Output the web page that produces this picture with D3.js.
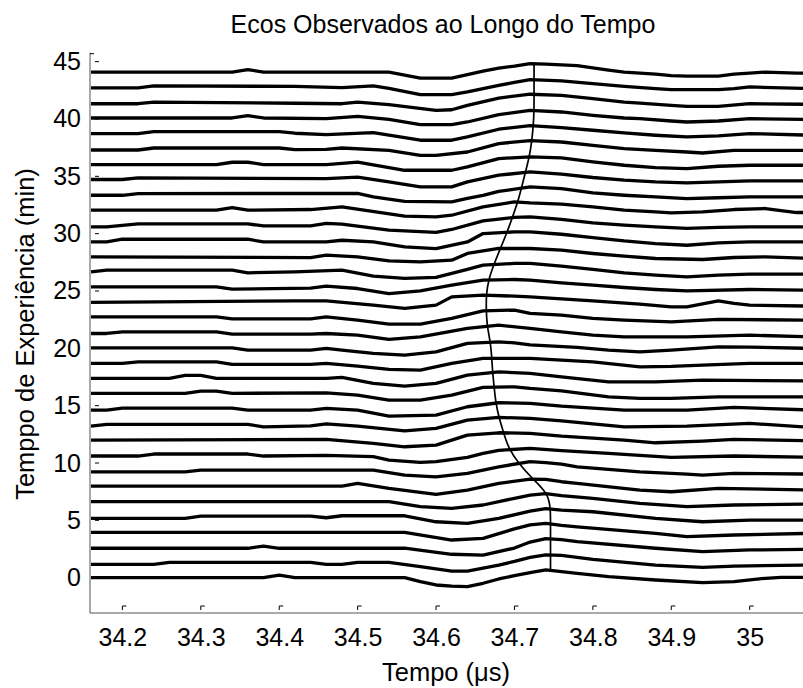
<!DOCTYPE html>
<html lang="pt">
<head>
  <meta charset="UTF-8">
  <script src="https://d3js.org/d3.v7.min.js"></script>
  <title>Ecos Observados ao Longo do Tempo</title>
  <style>
    body { margin: 0; background: #fff; }
    svg { display: block; font-family: Arial, "Liberation Sans", sans-serif; }
    .traco { fill: none; stroke: #000; stroke-width: 3.3; stroke-linejoin: round; }
    .pico { fill: none; stroke: #000; stroke-width: 1.7; }
    .linha-eixo { stroke: #555; stroke-width: 1; fill: none; }
    .marca { stroke: #000; stroke-width: 1; fill: none; }
    .eixo text { font-size: 25px; fill: #000; }
    .titulo { font-size: 25px; fill: #000; }
    .rotulo { font-size: 25.5px; fill: #000; }
  </style>
</head>
<body>
  <svg id="grafico" width="803" height="688"></svg>

  <script>
    // tempo de experiência (min) de cada eco, de baixo para cima
    const tempoExperiencia = [0, 1.33, 2.67, 4, 5.33, 6.67, 8, 9.33, 10.67, 12, 13.33, 14.67,
      16, 17.33, 18.67, 20, 21.33, 22.67, 24, 25.33, 26.67, 28, 29.33, 30.67,
      32, 33.33, 34.67, 36, 37.33, 38.67, 40, 41.33, 42.67, 44];

    // amplitude de cada eco (u.a.) nos vértices [tempo (µs), amplitude]
    const ecos = [
      [[34.16,0],[34.38,0],[34.40,2.5],[34.42,0],[34.56,0],[34.58,-4],[34.60,-7.3],[34.62,-8.5],[34.64,-9],[34.66,-5.6],[34.68,-1.3],[34.70,2],[34.72,5],[34.74,7.7],[34.76,6],[34.78,4.4],[34.82,1],[34.88,-2.3],[34.94,-5],[34.98,-4],[35.02,-0.6],[35.04,0.4],[35.08,0.4]],
      [[34.16,-1.9],[34.24,-1.9],[34.26,0],[34.44,0],[34.46,-1.9],[34.48,-1.9],[34.50,0],[34.54,0],[34.58,-4.3],[34.62,-8.6],[34.64,-8.6],[34.68,-2.6],[34.70,1],[34.72,5],[34.74,7.5],[34.76,7],[34.80,3.1],[34.88,-2.6],[34.94,-4.9],[34.98,-3.6],[35.08,-2.6]],
      [[34.16,-1.2],[34.36,-1.2],[34.38,1],[34.40,-1.2],[34.56,-1],[34.62,-7.2],[34.66,-8],[34.70,-1],[34.72,5],[34.74,8.5],[34.76,7.5],[34.78,5.4],[34.88,-1.2],[34.94,-4.6],[35.00,-2.9],[35.08,-2.2]],
      [[34.16,-0.5],[34.56,-0.5],[34.62,-8.2],[34.66,-6.5],[34.70,3],[34.72,7],[34.74,8.5],[34.76,6.5],[34.78,5],[34.88,-1.5],[34.92,-4.9],[34.98,-3.2],[35.08,-1.5]],
      [[34.16,-1.8],[34.28,-1.8],[34.30,0.5],[34.44,0.5],[34.46,-1.2],[34.48,0.8],[34.56,0.8],[34.60,-5.2],[34.64,-6.8],[34.68,-1.8],[34.72,5.5],[34.74,8],[34.76,6.5],[34.80,4.8],[34.88,-1.8],[34.94,-5.2],[35.00,-3.5],[35.08,-3.5]],
      [[34.16,-0.5],[34.54,-0.5],[34.58,-5.5],[34.62,-7.1],[34.66,-3.8],[34.70,2.9],[34.72,6],[34.74,7.5],[34.76,5.5],[34.80,2.9],[34.86,-2.1],[34.92,-5.5],[34.98,-3.8],[35.08,-2.8]],
      [[34.16,-0.1],[34.48,-0.1],[34.50,2.6],[34.54,-2.4],[34.60,-8.4],[34.64,-4.1],[34.68,2.6],[34.72,6.9],[34.74,6.5],[34.76,4.2],[34.78,2.6],[34.86,-4.1],[34.90,-5.8],[34.96,-2.4],[35.08,-4.1]],
      [[34.16,-1.1],[34.28,-1.1],[34.30,0.6],[34.52,0.6],[34.56,-4.4],[34.60,-6.1],[34.64,-2.7],[34.68,3.9],[34.72,9],[34.74,8],[34.76,6.6],[34.78,3.9],[34.86,-1.1],[34.92,-3.4],[34.94,-4.4],[34.98,-2.7],[35.08,-3.4]],
      [[34.16,-0.7],[34.22,-0.7],[34.24,1.3],[34.36,1.3],[34.38,-0.7],[34.46,0],[34.52,-1.4],[34.54,-4.7],[34.58,-7],[34.60,-6.4],[34.64,-2],[34.66,2],[34.68,5],[34.72,7],[34.76,4.6],[34.82,2],[34.90,-2],[34.98,-0.7],[35.08,-2]],
      [[34.16,0],[34.46,0.7],[34.52,-3.3],[34.56,-6.7],[34.60,-5],[34.64,5],[34.68,7.3],[34.72,6.7],[34.76,4],[34.84,0],[34.88,-2.7],[34.94,-1],[34.98,0.7],[35.08,-0.7]],
      [[34.16,-1.3],[34.18,0.4],[34.36,0.4],[34.38,-2],[34.44,-1],[34.46,1],[34.50,-1.3],[34.56,-6],[34.60,-3.6],[34.64,4.7],[34.68,7.4],[34.72,6.4],[34.76,4],[34.84,-2],[34.92,-1.3],[35.00,1.4],[35.08,-2.6]],
      [[34.16,-0.6],[34.18,-0.6],[34.20,1.4],[34.34,1.4],[34.36,-0.6],[34.44,-0.6],[34.46,1.1],[34.50,-0.6],[34.54,-6.6],[34.60,-5.6],[34.64,2.7],[34.68,6.7],[34.72,6.1],[34.76,3.4],[34.84,-0.6],[34.92,-0.6],[34.98,2.1],[35.08,-0.6]],
      [[34.16,0.8],[34.28,0.8],[34.30,3.1],[34.32,3.1],[34.34,0.8],[34.46,1.4],[34.50,-0.9],[34.54,-5.9],[34.58,-5.9],[34.62,-0.9],[34.66,6.8],[34.70,7.4],[34.72,5.8],[34.76,3.4],[34.82,-2.6],[34.86,-4.2],[34.90,-4.2],[34.96,-2.6],[35.08,-2.6]],
      [[34.16,0.5],[34.26,0.5],[34.28,3.5],[34.30,3.5],[34.32,0.5],[34.46,0.5],[34.48,1.5],[34.52,-4.5],[34.56,-7.2],[34.60,-4.5],[34.64,3.8],[34.68,7.1],[34.72,5.5],[34.76,2.1],[34.82,-2.9],[34.88,-2.9],[34.94,-1.2],[35.08,-1.9]],
      [[34.16,0.2],[34.20,0.2],[34.22,1.8],[34.32,1.8],[34.34,-0.8],[34.44,-0.8],[34.46,0.2],[34.50,-2.5],[34.54,-5.8],[34.58,-6.5],[34.62,0.2],[34.66,5.2],[34.72,5.2],[34.76,3.5],[34.80,1.8],[34.86,-3.2],[34.90,-2.8],[34.94,-1.5],[35.00,0.2],[35.08,0.2]],
      [[34.16,0.5],[34.34,0.5],[34.36,-1.8],[34.44,-1.8],[34.46,-0.1],[34.48,-1.8],[34.52,-5.1],[34.56,-6.8],[34.60,-3.5],[34.64,4.9],[34.68,6.5],[34.70,5.5],[34.72,3.5],[34.78,0.9],[34.82,-1.8],[34.86,-3.5],[34.90,-1.8],[34.96,1.5],[35.00,1.2],[35.08,-0.1]],
      [[34.16,-0.4],[34.18,-0.4],[34.20,1.2],[34.32,1.2],[34.34,-1.1],[34.44,-1.1],[34.46,-0.4],[34.50,-2.1],[34.54,-6.4],[34.58,-3.8],[34.64,4.6],[34.68,7.9],[34.72,4.6],[34.76,1.2],[34.80,-2.1],[34.84,-3.8],[34.92,-3.8],[35.00,-2.1],[35.08,-3.8]],
      [[34.16,0.9],[34.32,0.9],[34.34,-1.1],[34.44,-1.1],[34.46,0.9],[34.50,-2.4],[34.54,-6.4],[34.58,-6.4],[34.62,-0.7],[34.66,6.9],[34.70,7.6],[34.72,4.3],[34.76,2.6],[34.80,-0.7],[34.84,-2.4],[34.90,-4.1],[34.96,-1.7],[35.08,-2.4]],
      [[34.16,0],[34.42,1.6],[34.46,1.6],[34.52,-2.7],[34.56,-6],[34.60,-2.7],[34.62,5.6],[34.66,7.3],[34.70,6.3],[34.72,5.6],[34.80,1.6],[34.86,-1.7],[34.90,-4.4],[34.92,-4.4],[34.96,1.6],[34.98,-1],[35.00,-2.7],[35.08,-3.7]],
      [[34.16,0.3],[34.32,0.3],[34.34,-2],[34.44,-1],[34.46,1],[34.50,-1.3],[34.54,-6.5],[34.58,-3.7],[34.62,2],[34.66,7],[34.70,7.7],[34.72,7],[34.76,4.3],[34.80,2],[34.84,-0.3],[34.88,-2.3],[34.92,-3.7],[35.00,-2.3],[35.08,-3]],
      [[34.16,0],[34.18,1.7],[34.34,1.7],[34.36,-1],[34.42,0],[34.48,1.7],[34.52,-4.3],[34.56,-6.6],[34.60,-5.6],[34.64,2.4],[34.66,6.7],[34.70,8.4],[34.72,8.4],[34.76,5.7],[34.80,2.4],[34.84,-1],[34.88,-3.3],[34.92,-5],[34.96,-3.3],[35.00,-2.3],[35.08,-2.3]],
      [[34.16,-0.3],[34.44,-1],[34.46,1.4],[34.50,-0.3],[34.54,-4.3],[34.58,-5.3],[34.62,-3.6],[34.64,3.1],[34.68,8.1],[34.72,8.1],[34.76,6.4],[34.80,3.1],[34.84,0.4],[34.88,-1.9],[34.94,-2.9],[34.98,-0.9],[35.02,-0.3],[35.08,-1.9]],
      [[34.16,-0.6],[34.18,-0.6],[34.20,2.1],[34.36,2.1],[34.38,-0.6],[34.46,-0.6],[34.48,1.1],[34.52,-0.6],[34.56,-5.6],[34.60,-7.2],[34.64,-0.6],[34.66,7.8],[34.70,9.4],[34.72,9.4],[34.76,7.1],[34.80,3.8],[34.84,0.4],[34.88,-2.2],[34.92,-3.9],[34.96,-1.6],[35.00,-0.6],[35.08,-0.6]],
      [[34.16,-0.9],[34.18,-0.9],[34.22,2.1],[34.36,2.1],[34.38,0],[34.44,0],[34.46,2.5],[34.48,1.8],[34.54,-4.2],[34.60,-6.5],[34.62,-3.5],[34.66,5.1],[34.70,8.5],[34.72,9.1],[34.76,6.5],[34.80,3.1],[34.84,0.8],[34.88,-0.9],[34.92,-2.5],[34.96,-1.5],[35.00,-0.9],[35.08,-0.9]],
      [[34.16,0.5],[34.32,0.5],[34.34,3.2],[34.36,0.5],[34.44,1.2],[34.48,3.8],[34.56,-5.5],[34.60,-6.2],[34.62,-4.5],[34.66,3.8],[34.70,8.8],[34.72,7.8],[34.76,6.5],[34.80,3.8],[34.84,0.5],[34.88,-1.2],[34.90,-2.2],[34.94,-1.2],[34.98,1.2],[35.02,2.2],[35.06,-1.8],[35.08,-1.8]],
      [[34.16,0.2],[34.20,0.2],[34.22,1.9],[34.50,2],[34.52,-1.5],[34.56,-6],[34.62,-6.5],[34.64,-3],[34.66,0],[34.68,4],[34.72,8.5],[34.76,6.9],[34.80,2.5],[34.84,0.2],[34.88,-1.5],[34.92,-3.1],[34.96,-2.3],[35.00,-1.5],[35.08,-1.5]],
      [[34.16,0.6],[34.20,0.6],[34.22,2.2],[34.46,1.5],[34.50,3],[34.54,-1.8],[34.58,-6.8],[34.62,-6.8],[34.64,-1.8],[34.68,4.9],[34.72,8.2],[34.76,5.9],[34.80,2.6],[34.84,0],[34.88,-1.8],[34.92,-2.8],[34.96,-1.8],[35.00,-0.8],[35.08,-0.8]],
      [[34.16,0.3],[34.32,0.3],[34.34,2.6],[34.36,2.6],[34.38,0.3],[34.46,0.3],[34.50,2.8],[34.56,-5.4],[34.62,-5.4],[34.64,-2.1],[34.68,6.3],[34.72,8],[34.76,7],[34.80,3],[34.84,-0.4],[34.88,-2.7],[34.92,-3.7],[34.96,-1.4],[35.00,-0.4],[35.08,-0.4]],
      [[34.16,-0.4],[34.22,-0.4],[34.24,1.6],[34.40,1.6],[34.42,0],[34.46,0.3],[34.48,1.6],[34.54,-0.7],[34.58,-5.7],[34.60,-5.7],[34.64,-2.4],[34.68,6],[34.72,9],[34.76,7.6],[34.80,4.3],[34.84,1],[34.88,-0.7],[34.92,-2.4],[34.94,-3.4],[34.98,-0.7],[35.08,-0.7]],
      [[34.16,0.7],[34.22,0.7],[34.24,2.7],[34.40,2.7],[34.42,1],[34.46,-0.3],[34.52,1.7],[34.54,-1],[34.58,-6],[34.62,-6],[34.64,-2.7],[34.68,5],[34.72,8.7],[34.76,6.7],[34.80,4],[34.84,1.3],[34.88,-1],[34.92,-2.7],[34.96,-1.7],[35.00,0.7],[35.08,-1]],
      [[34.16,1],[34.34,1],[34.36,3.3],[34.38,1],[34.46,0.4],[34.50,2.7],[34.54,-0.3],[34.58,-5.6],[34.62,-5.6],[34.64,-3],[34.68,4.4],[34.72,8.7],[34.76,7],[34.80,3.7],[34.84,1],[34.86,0.4],[34.90,-2],[34.92,-3],[34.96,-2],[35.00,0.4],[35.08,-0.6]],
      [[34.16,0],[34.22,0],[34.24,1.7],[34.42,0.5],[34.48,0],[34.50,1.7],[34.54,-1],[34.60,-6.6],[34.62,-6],[34.64,-1.6],[34.68,5.7],[34.72,9.5],[34.76,8.4],[34.80,5],[34.84,1.7],[34.86,0.7],[34.90,-1.6],[34.92,-2.6],[34.96,-2.6],[35.00,0],[35.08,-0.6]],
      [[34.16,0.4],[34.22,0.4],[34.24,2.4],[34.42,2],[34.48,0.8],[34.52,2.4],[34.54,0],[34.58,-6.2],[34.62,-6.2],[34.64,-3.6],[34.66,-0.2],[34.68,3],[34.70,6],[34.72,8.8],[34.76,7.4],[34.80,4.8],[34.84,2],[34.88,-0.2],[34.90,-1.2],[34.96,-1.2],[34.98,-0.2],[35.00,1.4],[35.08,-0.2]],
      [[34.16,1],[34.34,1],[34.36,3.5],[34.38,1],[34.54,1],[34.58,-5],[34.62,-5],[34.64,-1.5],[34.66,2],[34.68,5],[34.70,7],[34.72,9.5],[34.74,9],[34.78,7.5],[34.82,3],[34.84,1],[34.86,0],[34.88,-1],[34.90,-2.5],[34.92,-3],[34.96,-3],[34.98,-1],[35.00,0],[35.02,1],[35.06,0],[35.08,0]]
    ];

    // posição do pico de cada eco (µs) e nível correspondente (min)
    const picoTempo = [34.746, 34.746, 34.746, 34.746, 34.746, 34.743, 34.722, 34.705, 34.692, 34.686,
      34.680, 34.676, 34.674, 34.672, 34.671, 34.669, 34.665, 34.664, 34.664, 34.667,
      34.674, 34.682, 34.690, 34.697, 34.704, 34.709, 34.714, 34.719, 34.722, 34.724,
      34.725, 34.725, 34.725, 34.725];
    const picoNivel = [0.67, 2.0, 3.35, 4.7, 6.0, 7.35, 8.7, 10.0, 11.35, 12.7,
      14.0, 15.35, 16.7, 18.0, 19.35, 20.7, 22.0, 23.35, 24.7, 26.0,
      27.35, 28.7, 30.0, 31.35, 32.7, 34.0, 35.35, 36.7, 38.0, 39.35,
      40.7, 42.0, 43.35, 44.8];

    const xTicks = [34.2, 34.3, 34.4, 34.5, 34.6, 34.7, 34.8, 34.9, 35.0];
    const xTickLabels = ["34.2", "34.3", "34.4", "34.5", "34.6", "34.7", "34.8", "34.9", "35"];
    const yTicks = [0, 5, 10, 15, 20, 25, 30, 35, 40, 45];

    const ganho = 0.0872; // min por unidade de amplitude

    const plotLeft = 90, plotRight = 803, plotTop = 52.7, plotBottom = 613;

    const svg = d3.select("#grafico");

    const x = d3.scaleLinear().domain([34.1587, 35.068]).range([plotLeft, plotRight]);
    const y = d3.scaleLinear().domain([-3.08, 45.78]).range([plotBottom, plotTop]);

    svg.append("defs").append("clipPath")
      .attr("id", "area")
      .append("rect")
      .attr("x", plotLeft).attr("y", 30)
      .attr("width", plotRight - plotLeft).attr("height", plotBottom - 30);

    const plot = svg.append("g").attr("clip-path", "url(#area)");

    const linha = d3.line();

    plot.selectAll(".traco")
      .data(ecos)
      .enter()
      .append("path")
      .attr("class", "traco")
      .attr("d", (eco, i) => linha(eco.map(p => [x(p[0]), y(tempoExperiencia[i] + p[1] * ganho)])));

    const linhaPico = d3.line()
      .x(d => x(d[0]))
      .y(d => y(d[1]))
      .curve(d3.curveBasis);

    plot.append("path")
      .attr("class", "pico")
      .attr("d", linhaPico(picoTempo.map((t, i) => [t, picoNivel[i]])));

    // eixos
    const eixoX = svg.append("g")
      .attr("class", "eixo")
      .attr("transform", `translate(0,${plotBottom})`)
      .call(d3.axisBottom(x)
        .tickValues(xTicks)
        .tickFormat((d, i) => xTickLabels[i])
        .tickSize(0)
        .tickPadding(15));
    eixoX.select(".domain").remove();

    const eixoY = svg.append("g")
      .attr("class", "eixo")
      .attr("transform", `translate(${plotLeft},0)`)
      .call(d3.axisLeft(y)
        .tickValues(yTicks)
        .tickSize(0)
        .tickPadding(9));
    eixoY.select(".domain").remove();

    svg.append("path")
      .attr("class", "linha-eixo")
      .attr("d", `M${plotLeft},${plotTop}V${plotBottom}H${plotRight}`);

    // marcas curtas dos ticks
    svg.selectAll(".marca-x")
      .data(xTicks)
      .enter()
      .append("path")
      .attr("class", "marca")
      .attr("d", d => `M${x(d)},${plotBottom - 3}V${plotBottom - 7}h4`);

    svg.selectAll(".marca-y")
      .data(yTicks)
      .enter()
      .append("path")
      .attr("class", "marca")
      .attr("d", d => `M${plotLeft + 5},${y(d)}h4`);

    svg.append("path")
      .attr("class", "marca")
      .attr("d", `M${plotLeft},${plotTop + 1}h4`);

    svg.append("text")
      .attr("class", "titulo")
      .attr("x", 443)
      .attr("y", 33)
      .attr("text-anchor", "middle")
      .text("Ecos Observados ao Longo do Tempo");

    svg.append("text")
      .attr("class", "rotulo")
      .attr("x", 446)
      .attr("y", 681)
      .attr("text-anchor", "middle")
      .text("Tempo (\u03bcs)");

    svg.append("text")
      .attr("class", "rotulo")
      .attr("transform", "translate(34,334) rotate(-90)")
      .attr("text-anchor", "middle")
      .text("Temppo de Experiência (min)");
  </script>
</body>
</html>
